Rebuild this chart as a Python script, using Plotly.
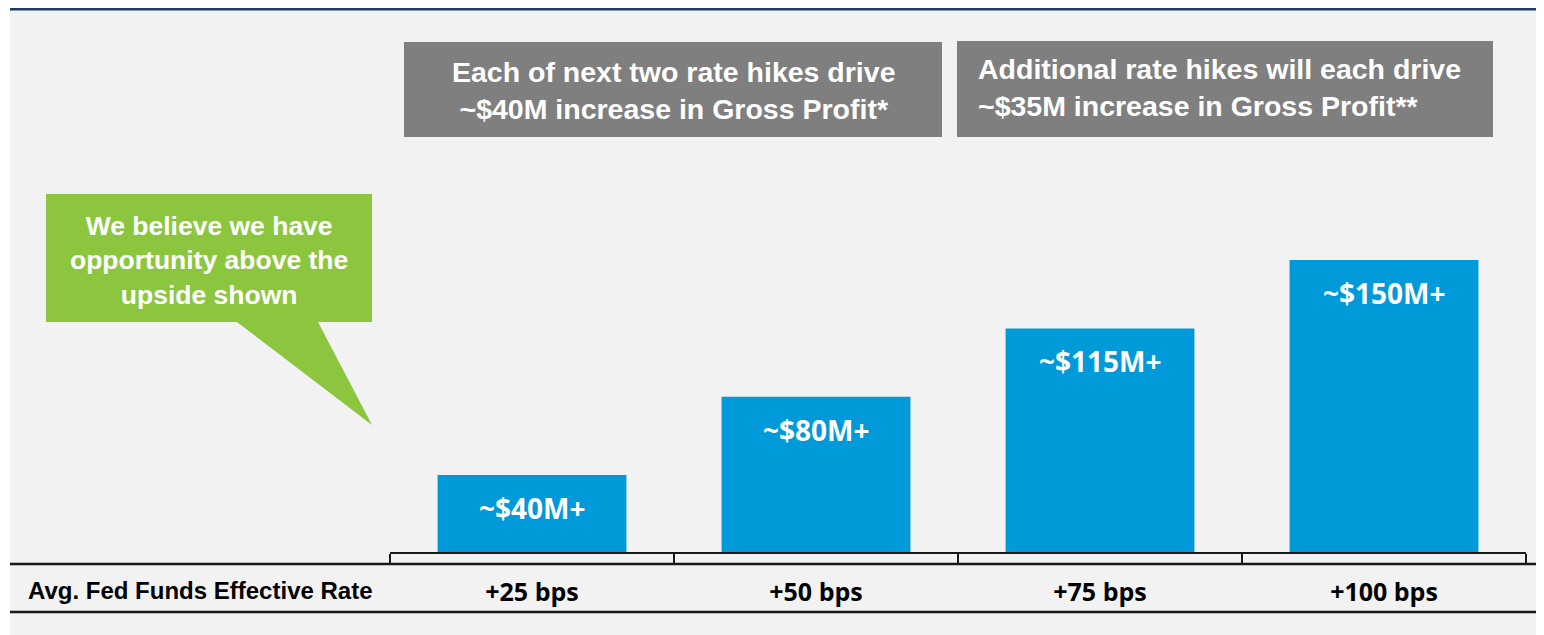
import plotly.graph_objects as go

# the page puts the plot 8px in from the top-left corner
PAGE_W, PAGE_H = 1544, 635
INSET = 8
W, H = PAGE_W - 2 * INSET, PAGE_H - INSET

# ── Data ─────────────────────────────────────────────────────────────────────

rate_steps = ["+25 bps", "+50 bps", "+75 bps", "+100 bps"]
gross_profit_m = [40, 80, 115, 150]
bar_labels = [f"~${v}M+" for v in gross_profit_m]

row_title = "Avg. Fed Funds Effective Rate"
box_left_text = "Each of next two rate hikes drive<br>~$40M increase in Gross Profit*"
box_right_text = "Additional rate hikes will each drive<br>~$35M increase in Gross Profit**"
callout_text = "We believe we have<br>opportunity above the<br>upside shown"

# ── Colours ──────────────────────────────────────────────────────────────────

BAR_BLUE = "#0099DA"
BOX_GREY = "#7F7F7F"
CALLOUT_GREEN = "#8CC63F"
NAVY = "#1F3864"
PANEL = "#F2F2F2"
INK = "#1A1A1A"

ARIAL = "Liberation Sans, Arial, sans-serif"
CALIBRI = "Open Sans, Calibri, sans-serif"


def px(x):
    """page pixel column -> paper fraction"""
    return (x - INSET) / W


def py(y):
    """page pixel row -> paper fraction"""
    return 1 - (y - INSET) / H


# pixel geometry of the chart body (page coordinates)
BASE_Y = 553          # zero line
PX_PER_UNIT = 1.953   # pixels per $M
y_range = [-(PAGE_H - BASE_Y) / PX_PER_UNIT, (BASE_Y - INSET) / PX_PER_UNIT]

fig = go.Figure(go.Bar(
    x=rate_steps,
    y=gross_profit_m,
    width=0.665,
    marker=dict(color=BAR_BLUE, line=dict(width=0)),
    hoverinfo="skip",
))

# labels inside the top of each bar
for cat, val, lab in zip(rate_steps, gross_profit_m, bar_labels):
    fig.add_annotation(
        x=cat, y=val, xref="x", yref="y", text=lab, showarrow=False,
        yanchor="middle", yshift=-33,
        font=dict(family=CALIBRI, size=28, color="white", weight="bold"),
    )

shapes = [
    # panel background and header rule
    dict(type="rect", xref="paper", yref="paper", x0=px(10), x1=1, y0=0, y1=py(10),
         fillcolor=PANEL, line_width=0, layer="below"),
    dict(type="rect", xref="paper", yref="paper", x0=px(10), x1=1, y0=py(10.5), y1=1,
         fillcolor=NAVY, line_width=0, layer="below"),
    # grey headline boxes
    dict(type="rect", xref="paper", yref="paper", x0=px(404), x1=px(942), y0=py(137), y1=py(42),
         fillcolor=BOX_GREY, line_width=0, layer="below"),
    dict(type="rect", xref="paper", yref="paper", x0=px(957), x1=px(1493), y0=py(137), y1=py(41),
         fillcolor=BOX_GREY, line_width=0, layer="below"),
    # green speech bubble
    dict(type="path", xref="paper", yref="paper",
         path=(f"M {px(46)},{py(194)} L {px(372)},{py(194)} L {px(372)},{py(322)} "
               f"L {px(318)},{py(322)} L {px(372)},{py(425)} L {px(237)},{py(322)} "
               f"L {px(46)},{py(322)} Z"),
         fillcolor=CALLOUT_GREEN, line_width=0, layer="below"),
    # table rules
    dict(type="line", xref="paper", yref="paper", x0=px(10), x1=1, y0=py(564), y1=py(564),
         line=dict(color=INK, width=2.5)),
    dict(type="line", xref="paper", yref="paper", x0=px(10), x1=1, y0=py(612), y1=py(612),
         line=dict(color=INK, width=2.5)),
]

annotations = [
    dict(xref="paper", yref="paper", x=px(673), y=py(91), text=box_left_text,
         showarrow=False, xanchor="center", yanchor="middle", align="center",
         font=dict(family=ARIAL, size=28.5, color="white", weight="bold")),
    dict(xref="paper", yref="paper", x=px(976), y=py(88), text=box_right_text,
         showarrow=False, xanchor="left", yanchor="middle", align="left",
         font=dict(family=ARIAL, size=28.5, color="white", weight="bold")),
    dict(xref="paper", yref="paper", x=px(209), y=py(260), text=callout_text,
         showarrow=False, xanchor="center", yanchor="middle", align="center",
         font=dict(family=ARIAL, size=26.5, color="white", weight="bold")),
    dict(xref="paper", yref="paper", x=px(201), y=py(590), text=row_title,
         showarrow=False, xanchor="center", yanchor="middle",
         font=dict(family=ARIAL, size=24, color="black", weight="bold")),
]

fig.update_layout(
    width=W,
    height=H,
    margin=dict(l=0, r=0, t=0, b=0),
    paper_bgcolor="white",
    plot_bgcolor="rgba(0,0,0,0)",
    showlegend=False,
    shapes=shapes,
    xaxis=dict(
        domain=[px(390), px(1526)],
        range=[-0.5, 3.5],
        anchor="free",
        position=py(BASE_Y),
        showline=True,
        linecolor=INK,
        linewidth=2,
        ticks="outside",
        tickson="boundaries",
        ticklen=10,
        tickwidth=1.5,
        tickcolor=INK,
        ticklabelstandoff=17,
        showgrid=False,
        zeroline=False,
        tickfont=dict(family=CALIBRI, size=25, color="black", weight="bold"),
        fixedrange=True,
    ),
    yaxis=dict(range=y_range, visible=False, showgrid=False, zeroline=False, fixedrange=True),
)
for a in annotations:
    fig.add_annotation(**a)

fig.write_html("out.html")
